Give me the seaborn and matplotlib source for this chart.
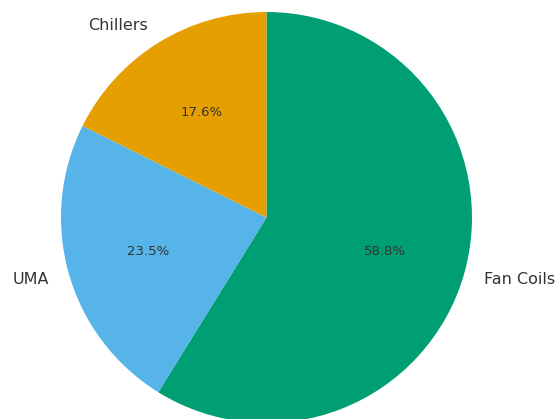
import matplotlib as mpl
mpl.use('Agg')
import matplotlib.pyplot as plt
import seaborn as sns

# data
labels = ['Fan Coils', 'UMA', 'Chillers']
values = [10, 4, 3]
colors = ['#009E73', '#56B4E9', '#E69F00']

sns.set_style("white")
plt.rcParams['font.family'] = ['DejaVu Sans']

fig = plt.figure(figsize=(5.55, 4.19), dpi=100)
ax = fig.add_axes([0, 0, 1, 1])

wedges, texts, autotexts = ax.pie(
    values,
    labels=labels,
    colors=colors,
    autopct='%1.1f%%',
    startangle=90,
    counterclock=False,
    wedgeprops={'linewidth': 0},
    textprops={'color': '#333333'},
)
for t in texts:
    t.set_fontsize(11.5)
for t in autotexts:
    t.set_fontsize(9.5)

# radius 205.5 px, centre at (266.5, 217.5) from top-left
r = 205.5
ax.set_xlim(-266.5 / r, (555 - 266.5) / r)
ax.set_ylim(-(419 - 217.5) / r, 217.5 / r)
ax.set_aspect('equal', adjustable='datalim')

fig.savefig('out.png', dpi=100)
